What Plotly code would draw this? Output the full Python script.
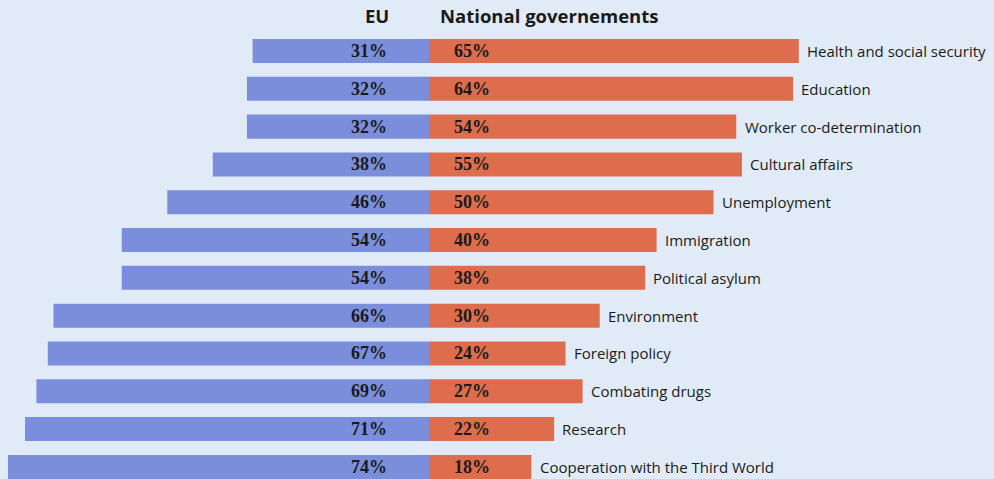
import plotly.graph_objects as go

categories = ["Health and social security", "Education", "Worker co-determination",
              "Cultural affairs", "Unemployment", "Immigration", "Political asylum",
              "Environment", "Foreign policy", "Combating drugs", "Research",
              "Cooperation with the Third World"]
eu = [31, 32, 32, 38, 46, 54, 54, 66, 67, 69, 71, 74]
national = [65, 64, 54, 55, 50, 40, 38, 30, 24, 27, 22, 18]

BLUE = "#7b8edb"
ORANGE = "#dd6d4d"
BG = "#e1ebf7"

rows = list(range(len(categories)))

fig = go.Figure()
fig.add_trace(go.Bar(y=rows, x=[-v for v in eu], orientation="h", marker_color=BLUE,
                     marker_line_width=0, width=0.635, showlegend=False, hoverinfo="skip"))
fig.add_trace(go.Bar(y=rows, x=national, orientation="h", marker_color=ORANGE,
                     marker_line_width=0, width=0.635, showlegend=False, hoverinfo="skip"))

annotations = []
pct_font = dict(family="Liberation Serif", size=18, color="#1a1a1a")
for i, (c, e, n) in enumerate(zip(categories, eu, national)):
    annotations.append(dict(x=-7.0, y=i, text=f"<b>{e}%</b>", xanchor="right", yanchor="middle",
                            showarrow=False, font=pct_font))
    annotations.append(dict(x=4.0, y=i, text=f"<b>{n}%</b>", xanchor="left", yanchor="middle",
                            showarrow=False, font=pct_font))
    annotations.append(dict(x=n + 1.1, y=i, text=c, xanchor="left", yanchor="middle",
                            showarrow=False, font=dict(family="Open Sans", size=15, color="#1a1a1a")))

hdr_font = dict(family="Open Sans", size=18.5, color="#1a1a1a")
annotations.append(dict(x=-9.1, y=-0.93, text="<b>EU</b>", xanchor="center", yanchor="middle",
                        showarrow=False, font=hdr_font))
annotations.append(dict(x=1.6, y=-0.93, text="<b>National governements</b>", xanchor="left",
                        yanchor="middle", showarrow=False, font=hdr_font))

fig.update_layout(
    width=994, height=479,
    margin=dict(l=0, r=0, t=0, b=0),
    paper_bgcolor=BG, plot_bgcolor=BG,
    barmode="overlay",
    xaxis=dict(range=[-75.4, 99.3], visible=False, fixedrange=True),
    yaxis=dict(range=[11.32, -1.349], visible=False, fixedrange=True),
    annotations=annotations,
)

fig.write_html("out.html")
